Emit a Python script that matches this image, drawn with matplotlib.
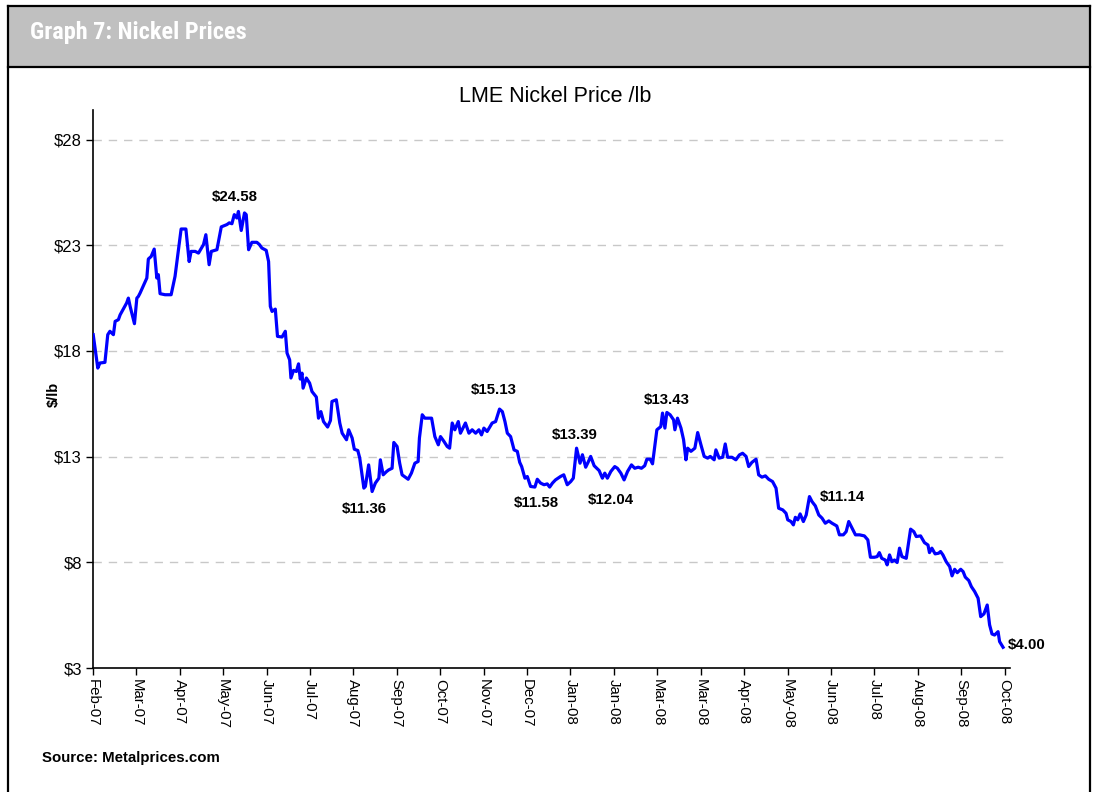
import matplotlib
matplotlib.use("Agg")
import matplotlib.pyplot as plt
from matplotlib.patches import Rectangle
from matplotlib.lines import Line2D
from matplotlib import font_manager

plt.rcParams['font.family'] = ['Liberation Sans', 'DejaVu Sans']

# ---- data (trading-day index, $/lb) ----
days = [0.1, 2.2, 3.2, 5.5, 6.8, 7.8, 9.4, 10.2, 11.7, 12.5, 15.5, 16.3, 17.1, 19.1, 20.2, 20.9, 21.7,
        24.8, 25.5, 26.8, 28.2, 29.4, 30.1, 30.9, 33.2, 36.0, 37.8, 39.4, 40.6, 42.8, 44.3, 45.2, 47.1,
        48.6, 50.9, 52.0, 53.5, 54.5, 57.1, 59.1, 61.7, 62.8, 64.0, 65.1, 66.3, 67.0, 68.3, 69.8, 70.6,
        71.7, 73.2, 75.5, 76.7, 77.8, 79.8, 80.9, 81.7, 82.5, 84.0, 85.0, 87.1, 88.6, 89.4, 90.6, 91.2,
        92.4, 93.7, 94.7, 95.5, 96.3, 96.8, 98.3, 99.8, 100.9, 102.9, 103.9, 105.0, 106.2, 108.1, 109.4,
        110.1, 112.1, 113.7, 114.8, 116.8, 117.8, 119.4, 120.4, 122.0, 122.9, 124.8, 125.5, 127.0, 128.6,
        130.1, 131.7, 132.4, 133.7, 135.2, 136.2, 137.8, 138.6, 140.1, 141.3, 142.4, 145.2, 146.7, 148.3,
        149.8, 150.4, 151.7, 152.9, 154.7, 156.0, 157.5, 159.1, 160.1, 161.7, 163.2, 164.3, 165.5, 166.7,
        168.3, 169.3, 171.6, 173.2, 174.7, 176.3, 177.8, 179.0, 180.1, 181.6, 183.9, 185.5, 187.3, 188.6,
        189.8, 190.9, 192.4, 194.0, 195.5, 196.6, 197.5, 199.0, 200.1, 201.6, 203.6, 204.7, 206.2, 207.8,
        209.3, 210.4, 211.7, 213.1, 215.4, 216.9, 218.5, 220.1, 221.3, 222.8, 224.4, 225.5, 227.0, 228.1,
        229.3, 230.9, 233.2, 234.7, 235.8, 237.0, 238.6, 240.4, 241.6, 243.2, 244.7, 246.3, 248.1, 249.6,
        251.2, 252.7, 254.2, 255.2, 256.7, 257.8, 259.8, 261.6, 262.4, 263.5, 264.4, 265.9, 267.5, 268.1,
        269.3, 270.9, 272.1, 273.2, 274.0, 275.5, 277.3, 278.6, 280.1, 281.6, 283.2, 284.4, 286.2, 287.0,
        288.5, 290.1, 291.3, 292.4, 294.4, 296.2, 297.8, 299.3, 300.9, 302.1, 303.6, 305.5, 306.7, 308.2,
        309.8, 311.3, 313.1, 314.7, 315.9, 317.8, 319.3, 320.1, 321.6, 322.7, 323.6, 324.7, 325.8, 327.3,
        328.6, 330.1, 331.3, 332.8, 334.4, 335.9, 337.4, 339.0, 340.5, 342.7, 343.9, 345.7, 347.0, 348.2,
        349.8, 351.3, 353.2, 355.4, 357.0, 358.2, 360.0, 361.3, 362.3, 363.4, 365.0, 365.9, 367.0, 368.1,
        369.3, 370.5, 371.6, 372.7, 374.7, 376.7, 378.2, 379.3, 381.3, 383.1, 384.7, 385.4, 386.5, 388.0,
        389.6, 390.5, 391.6, 393.1, 394.7, 395.8, 397.0, 398.2, 399.8, 400.9, 401.9, 403.5, 404.7, 406.2,
        407.8, 409.0, 410.5, 412.0, 413.1, 414.2, 415.4, 417.0, 417.7, 419.3]

prices = [18.77, 17.19, 17.43, 17.46, 18.77, 18.93, 18.77, 19.40, 19.48, 19.71, 20.27, 20.50, 20.11, 19.29,
          20.50, 20.58, 20.74, 21.45, 22.35, 22.47, 22.82, 21.45, 21.61, 20.71, 20.66, 20.66, 21.53, 22.79,
          23.77, 23.77, 22.23, 22.71, 22.71, 22.63, 23.03, 23.50, 22.08, 22.71, 22.79, 23.87, 23.98, 24.06,
          24.02, 24.45, 24.29, 24.60, 23.70, 24.53, 24.45, 22.79, 23.14, 23.14, 23.03, 22.87, 22.76, 22.23,
          20.11, 19.87, 19.98, 18.69, 18.66, 18.93, 17.90, 17.58, 16.72, 17.08, 17.03, 17.39, 16.67, 16.95,
          16.24, 16.72, 16.48, 16.08, 15.82, 14.82, 15.13, 14.66, 14.40, 14.71, 15.61, 15.69, 14.59, 14.11,
          13.80, 14.27, 13.88, 13.35, 13.29, 12.93, 11.51, 11.59, 12.61, 11.35, 11.75, 11.98, 12.85, 12.14,
          12.29, 12.37, 12.45, 13.67, 13.48, 12.69, 12.14, 11.93, 12.22, 12.69, 12.77, 13.88, 14.98, 14.82,
          14.82, 14.82, 13.95, 13.56, 13.95, 13.72, 13.48, 13.40, 14.59, 14.27, 14.66, 14.11, 14.59, 14.11,
          14.27, 14.11, 14.27, 14.03, 14.35, 14.19, 14.59, 14.66, 15.25, 15.13, 14.66, 14.11, 13.95, 13.32,
          13.25, 12.73, 12.53, 11.98, 12.06, 11.59, 11.56, 11.93, 11.75, 11.67, 11.71, 11.56, 11.75, 11.90,
          12.06, 12.14, 11.67, 11.82, 11.98, 13.40, 12.69, 13.09, 12.50, 12.73, 13.01, 12.57, 12.34, 11.98,
          12.22, 11.98, 12.30, 12.53, 12.45, 12.22, 11.90, 12.30, 12.61, 12.45, 12.50, 12.45, 12.57, 12.88,
          12.88, 12.66, 14.27, 14.42, 15.06, 14.35, 15.09, 14.98, 14.74, 14.27, 14.82, 14.35, 13.80, 12.85,
          13.40, 13.25, 13.40, 14.14, 13.56, 13.01, 12.93, 13.01, 12.85, 13.32, 12.93, 12.97, 13.60, 12.97,
          12.97, 12.85, 13.08, 13.16, 13.01, 12.53, 12.73, 12.88, 12.14, 12.03, 12.09, 11.93, 11.82, 11.51,
          10.56, 10.48, 10.32, 10.01, 9.93, 9.77, 10.13, 10.01, 10.29, 9.93, 10.24, 11.11, 10.87, 10.67,
          10.24, 10.09, 9.85, 9.96, 9.85, 9.72, 9.30, 9.30, 9.45, 9.93, 9.61, 9.30, 9.30, 9.25, 9.06, 8.24,
          8.24, 8.27, 8.46, 8.19, 8.11, 7.88, 8.35, 8.03, 8.11, 7.99, 8.67, 8.27, 8.19, 9.57, 9.45, 9.22,
          9.25, 8.93, 8.82, 8.46, 8.67, 8.40, 8.43, 8.51, 8.35, 8.03, 7.80, 7.36, 7.67, 7.51, 7.67, 7.56,
          7.30, 7.14, 6.85, 6.62, 6.30, 5.43, 5.56, 5.98, 5.04, 4.61, 4.56, 4.72, 4.25, 3.98]

tick_days = list(range(0, 421, 20))
tick_labels = ["Feb-07", "Mar-07", "Apr-07", "May-07", "Jun-07", "Jul-07", "Aug-07", "Sep-07",
               "Oct-07", "Nov-07", "Dec-07", "Jan-08", "Jan-08", "Mar-08", "Mar-08", "Apr-08",
               "May-08", "Jun-08", "Jul-08", "Aug-08", "Sep-08", "Oct-08"]

y_ticks = [3, 8, 13, 18, 23, 28]
y_labels = ["$3", "$8", "$13", "$18", "$23", "$28"]

ann_labels = ["$24.58", "$11.36", "$15.13", "$11.58", "$13.39", "$12.04", "$13.43", "$11.14"]
ann_x = [65.4, 125.0, 184.6, 204.2, 221.9, 238.8, 264.4, 345.4]
ann_y = [25.27, 10.53, 16.16, 10.83, 14.03, 10.95, 15.69, 11.11]
last_label = "$4.00"

# ---- figure ----
W, H = 1097, 792
fig = plt.figure(figsize=(W / 100, H / 100), dpi=100)

def fx(px):
    return px / W

def fy(py):
    return 1 - py / H

# header band and frame
fig.add_artist(Rectangle((fx(8), fy(67)), fx(1090) - fx(8), fy(6) - fy(67),
                         transform=fig.transFigure, facecolor="#c0c0c0", edgecolor="none", zorder=0))
lw = 1.6
for (x0, y0, x1, y1) in [(8, 6, 1090, 6), (8, 67, 1090, 67), (8, 6, 8, 800), (1090, 6, 1090, 800)]:
    fig.add_artist(Line2D([fx(x0), fx(x1)], [fy(y0), fy(y1)], transform=fig.transFigure,
                          color="black", lw=lw, zorder=1))

# pick a narrow font for the header if one is installed
available = {f.name for f in font_manager.fontManager.ttflist}
narrow = None
for cand in ["Liberation Sans Narrow", "Roboto Condensed", "DejaVu Sans Condensed", "Open Sans Condensed"]:
    if cand in available:
        narrow = cand
        break
if narrow is not None:
    fig.text(fx(30), fy(33), "Graph 7: Nickel Prices", color="white", fontsize=17.5, fontweight="bold",
             family=[narrow, "Liberation Sans"], ha="left", va="center")
else:
    fig.text(fx(30), fy(33), "Graph 7: Nickel Prices", color="white", fontsize=15, fontweight="bold",
             ha="left", va="center")

fig.text(fx(555), fy(97), "LME Nickel Price /lb", fontsize=15.5, ha="center", va="center")

fig.text(fx(42), fy(758), "Source: Metalprices.com", fontsize=10.8, fontweight="bold",
         ha="left", va="center")

ax = fig.add_axes([fx(93), fy(668), fx(1010) - fx(93), fy(110) - fy(668)])
ax.plot(days, prices, color="#0000ff", lw=2.3, solid_joinstyle="round", zorder=3)

ax.set_xlim(0, 422.5)
ax.set_ylim(3, 29.4)
ax.set_yticks(y_ticks)
ax.set_yticklabels(y_labels, fontsize=12)
ax.set_xticks(tick_days)
ax.set_xticklabels(tick_labels, rotation=-90, fontsize=10.8, va="top", ha="center")
ax.tick_params(axis="both", direction="out", length=5, width=1, color="black", pad=3)

for yv in y_ticks[1:]:
    ax.axhline(yv, color="#c8c8c8", lw=1, ls=(0, (6, 5)), zorder=1)

for s in ["top", "right"]:
    ax.spines[s].set_visible(False)
for s in ["left", "bottom"]:
    ax.spines[s].set_color("black")
    ax.spines[s].set_linewidth(1.2)

ax.set_ylabel("$/lb", fontsize=10.5, fontweight="bold")
ax.yaxis.set_label_coords((61 - 93) / 917, 0.49)

for lab, xv, yv in zip(ann_labels, ann_x, ann_y):
    ax.text(xv, yv, lab, fontsize=10.8, fontweight="bold", ha="center", va="center", zorder=4)
ax.text(days[-1] + 2.3, prices[-1] + 0.1, last_label, fontsize=10.8, fontweight="bold",
        ha="left", va="center", clip_on=False, zorder=4)

fig.savefig("out.png", dpi=100)
